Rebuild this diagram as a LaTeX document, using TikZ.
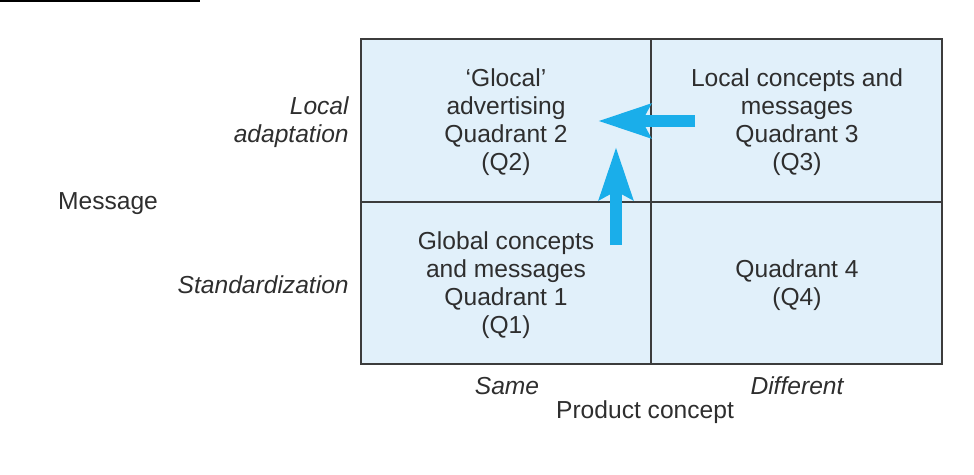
\documentclass[tikz,border=0pt]{standalone}
\usepackage{fontspec}
\setmainfont{Liberation Sans}
\usetikzlibrary{arrows.meta}
\definecolor{quadfill}{HTML}{E1F0FA}
\definecolor{arrowblue}{HTML}{1AAEEA}
\definecolor{gridgray}{HTML}{3C3C3C}
\definecolor{textgray}{HTML}{2E2E2E}
\begin{document}
\begin{tikzpicture}[x=0.02cm,y=-0.02cm,
		declare function={x0=361; xm=651; x1=942; y0=39; ym=202; y1=364;},
		line join=miter,
		every node/.style={font=\fontsize{14}{15.9}\selectfont,text=textgray,inner sep=0pt},
		quadtext/.style={align=center},
		axistext/.style={font=\fontsize{14}{15.9}\selectfont\itshape},
		bigarrow/.style={arrowblue,line width=0.25cm,-{Stealth[length=1.04cm,width=0.66cm,inset=0.16cm]}}]
	\useasboundingbox (0,0) rectangle (974,474);
	% rule left over from the heading
	\fill[black] (0,0) rectangle (200,2.2);
	% the four quadrants
	\fill[quadfill] (x0,y0) rectangle (x1,y1);
	\draw[gridgray,line width=0.03cm] (x0,y0) rectangle (x1,y1);
	\draw[gridgray,line width=0.03cm] (xm,y0) -- (xm,y1);
	\draw[gridgray,line width=0.03cm] (x0,ym) -- (x1,ym);
	\node[quadtext] (q2) at (506,122) {`Glocal'\\advertising\\Quadrant 2\\(Q2)};
	\node[quadtext] (q3) at (797,122) {Local concepts and\\messages\\Quadrant 3\\(Q3)};
	\node[quadtext] (q1) at (506,285) {Global concepts\\and messages\\Quadrant 1\\(Q1)};
	\node[quadtext] (q4) at (797,285) {Quadrant 4\\(Q4)};
	% axis labels
	\node[axistext,align=right,anchor=east] (local) at (349,122) {Local\\adaptation};
	\node[axistext,anchor=east] (std) at (349,285) {Standardization};
	\node (msg) at (108,204) {Message};
	\node[axistext] (same) at (507,386) {Same};
	\node[axistext] (diff) at (797,386) {Different};
	\node (prod) at (645,412) {Product concept};
	% moves towards Q2
	\coordinate (fromq3) at (695,121);
	\coordinate (toq2h) at (598,121);
	\coordinate (fromq1) at (616,245);
	\coordinate (toq2v) at (616,147);
	\draw[bigarrow] (fromq3) -- (toq2h);
	\draw[bigarrow] (fromq1) -- (toq2v);
\end{tikzpicture}
\end{document}
